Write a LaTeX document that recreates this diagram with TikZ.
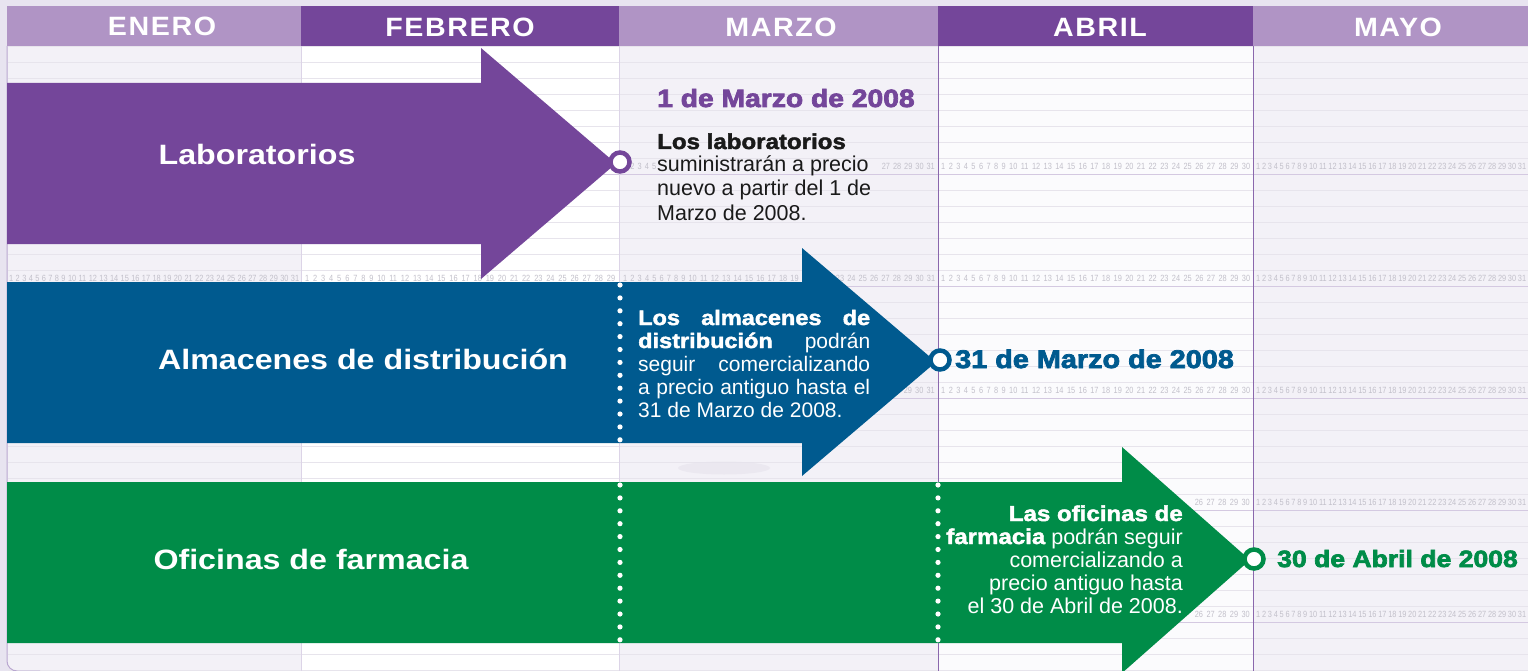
\documentclass[tikz,border=0pt]{standalone}
\usepackage{fontspec}
\setmainfont{Liberation Sans}
\newfontfamily\widefont{Liberation Sans}[BoldFeatures={FakeStretch=1.15}]
\newfontfamily\heavyfont{Liberation Sans}[BoldFeatures={FakeStretch=1.13,FakeBold=3}]
\newfontfamily\blackfont{Liberation Sans}[BoldFeatures={FakeStretch=1.12,FakeBold=2}]
\newfontfamily\hdrfont{Liberation Sans}[BoldFeatures={FakeStretch=1.08,LetterSpace=6}]
\newfontfamily\numfont{Liberation Sans}[FakeStretch=0.82]
\definecolor{bgout}{HTML}{E8E4F0}
\definecolor{lav}{HTML}{F3F1F7}
\definecolor{acol}{HTML}{FBFBFD}
\definecolor{purp}{HTML}{74469A}
\definecolor{hlight}{HTML}{B094C5}
\definecolor{blu}{HTML}{005A8F}
\definecolor{grn}{HTML}{008C48}
\definecolor{gline}{HTML}{E7E4EC}
\definecolor{pline}{HTML}{D4C9E1}
\definecolor{vlight}{HTML}{DCD4E7}
\definecolor{vdark}{HTML}{8A67AD}
\definecolor{numc}{HTML}{C2C0CA}
\definecolor{txt}{HTML}{1A1A1A}
\definecolor{frame}{HTML}{B9A7D0}
\definecolor{shadowc}{HTML}{E6E3EC}
\def\dXXXI{1 2 3 4 5 6 7 8 9 10 11 12 13 14 15 16 17 18 19 20 21 22 23 24 25 26 27 28 29 30 31}
\def\dXXX{1 2 3 4 5 6 7 8 9 10 11 12 13 14 15 16 17 18 19 20 21 22 23 24 25 26 27 28 29 30}
\def\dXXIX{1 2 3 4 5 6 7 8 9 10 11 12 13 14 15 16 17 18 19 20 21 22 23 24 25 26 27 28 29}
\begin{document}
\begin{tikzpicture}[x=1pt,y=-1pt,
  hd/.style={anchor=base, text=white, inner sep=0, font=\hdrfont\bfseries\fontsize{26.5}{26.5}\selectfont},
  lbl/.style={anchor=base, text=white, inner sep=0, font=\widefont\bfseries\fontsize{28}{28}\selectfont},
  dt/.style={anchor=base west, inner sep=0, font=\heavyfont\bfseries\fontsize{25}{25}\selectfont},
  bodyl/.style={anchor=base west, inner sep=0, font=\fontsize{21.5}{23}\selectfont},
  bodyr/.style={anchor=base east, inner sep=0, font=\fontsize{21.5}{23}\selectfont},
  numrow/.style={anchor=base west, inner sep=0, text=numc, font=\numfont\fontsize{9}{9}\selectfont},
  numrowe/.style={numrow, anchor=base east},
  dotline/.style={white, line width=5.2pt, line cap=round, dash pattern=on 0pt off 12.9pt},
  ring/.style={circle, fill=white, line width=4.5pt, minimum size=19pt, inner sep=0}
]
\useasboundingbox (0,0) rectangle (1528,671);
\clip (0,0) rectangle (1528,671);
\fill[bgout] (0,0) rectangle (1528,671);
% calendar body
\fill[lav] (1540,46) -- (7,46) [rounded corners=10pt] -- (7,671) -- (1540,671) -- cycle;
\fill[white] (301,46) rectangle (619,671);
\fill[acol] (938,46) rectangle (1253,671);
% grid lines
\foreach \k in {0,...,39} {
  \draw[gline, line width=0.8pt] (8,{46+16*\k}) -- (1528,{46+16*\k});
}
\foreach \j in {0,...,4} {
  \draw[pline, line width=0.9pt] (8,{174+112*\j}) -- (1528,{174+112*\j});
}
% vertical lines
\draw[vlight, line width=0.8pt] (301,46) -- (301,671);
\draw[vlight, line width=0.8pt] (619,46) -- (619,671);
\draw[vdark, line width=1pt] (938,46) -- (938,671);
\draw[vdark, line width=1pt] (1253,46) -- (1253,671);
\draw[frame, line width=1pt, rounded corners=10pt] (7,46) -- (7,671) -- (40,671);
% day numbers (only where they are not hidden)
% row 0 (y 166)
\node[numrow] (nm0a) at (623,169.5) {\makebox[33pt][s]{1 2 3 4 5}};
\node[numrowe] (nm0b) at (935,169.5) {\makebox[53pt][s]{27 28 29 30 31}};
\node[numrow] (na0) at (941,169.5) {\makebox[309pt][s]{\dXXX}};
\node[numrow] (ny0) at (1256,169.5) {\makebox[270pt][s]{\dXXXI}};
% row 1 (y 278)
\node[numrow] (ne1) at (9,281.5) {\makebox[290pt][s]{\dXXXI}};
\node[numrow] (nf1) at (305,281.5) {\makebox[310pt][s]{\dXXIX}};
\node[numrow] (nm1) at (623,281.5) {\makebox[312pt][s]{\dXXXI}};
\node[numrow] (na1) at (941,281.5) {\makebox[309pt][s]{\dXXX}};
\node[numrow] (ny1) at (1256,281.5) {\makebox[270pt][s]{\dXXXI}};
% row 2 (y 390)
\node[numrowe] (nm2) at (935,393.5) {\makebox[31pt][s]{29 30 31}};
\node[numrow] (na2) at (941,393.5) {\makebox[309pt][s]{\dXXX}};
\node[numrow] (ny2) at (1256,393.5) {\makebox[270pt][s]{\dXXXI}};
% row 3 (y 502)
\node[numrowe] (na3) at (1250,505.5) {\makebox[55pt][s]{26 27 28 29 30}};
\node[numrow] (ny3) at (1256,505.5) {\makebox[270pt][s]{\dXXXI}};
% row 4 (y 614)
\node[numrowe] (na4) at (1250,617.5) {\makebox[55pt][s]{26 27 28 29 30}};
\node[numrow] (ny4) at (1256,617.5) {\makebox[270pt][s]{\dXXXI}};
% faint shadow
\fill[shadowc, opacity=0.6] (724,468) ellipse [x radius=46, y radius=6.5];
% arrows
\fill[purp] (7,83) -- (481,83) -- (481,48) -- (616,163.5) -- (481,279) -- (481,244) -- (7,244) -- cycle;
\fill[blu] (7,282) -- (802,282) -- (802,248) -- (936,362) -- (802,476) -- (802,443) -- (7,443) -- cycle;
\fill[grn] (7,482) -- (1122,482) -- (1122,447) -- (1250,560) -- (1122,673) -- (1122,643) -- (7,643) -- cycle;
% dotted separators
\coordinate (b1) at (620,285);
\coordinate (b2) at (620,441);
\coordinate (g1) at (620,485);
\coordinate (g2) at (620,641);
\coordinate (g3) at (938,485);
\coordinate (g4) at (938,641);
\draw[dotline] (b1) -- (b2);
\draw[dotline] (g1) -- (g2);
\draw[dotline] (g3) -- (g4);
% rings
\node[ring, draw=purp] (rp) at (620,162) {};
\node[ring, draw=blu] (rb) at (940,360) {};
\node[ring, draw=grn] (rg) at (1254,559) {};
% arrow labels
\node[lbl] (lab) at (257,165) {Laboratorios};
\node[lbl] (alm) at (363,369) {Almacenes de distribución};
\node[lbl] (ofi) at (311,569) {Oficinas de farmacia};
% dates
\node[dt, text=purp] (d1) at (657,107) {1 de Marzo de 2008};
\node[dt, text=blu, font=\heavyfont\bfseries\fontsize{25.5}{25.5}\selectfont] (d2) at (955,368) {31 de Marzo de 2008};
\node[dt, text=grn, font=\heavyfont\bfseries\fontsize{23.5}{23.5}\selectfont] (d3) at (1277,567) {30 de Abril de 2008};
% purple text
\node[bodyl, text=txt] (p1) at (657,149) {\blackfont\bfseries Los laboratorios};
\node[bodyl, text=txt] (p2) at (657,172) {suministrarán a precio};
\node[bodyl, text=txt] (p3) at (657,196) {nuevo a partir del 1 de};
\node[bodyl, text=txt] (p4) at (657,220) {Marzo de 2008.};
% blue text
\node[bodyl, text=white, font=\fontsize{21}{23}\selectfont] (q1) at (638,325) {\makebox[232pt][s]{\blackfont\bfseries Los almacenes de}};
\node[bodyl, text=white, font=\fontsize{21}{23}\selectfont] (q2) at (638,348) {\makebox[232pt][s]{{\blackfont\bfseries distribución} podrán}};
\node[bodyl, text=white, font=\fontsize{21}{23}\selectfont] (q3) at (638,371) {\makebox[232pt][s]{seguir comercializando}};
\node[bodyl, text=white, font=\fontsize{21}{23}\selectfont] (q4) at (638,394) {\makebox[232pt][s]{a precio antiguo hasta el}};
\node[bodyl, text=white, font=\fontsize{21}{23}\selectfont] (q5) at (638,417) {31 de Marzo de 2008.};
% green text
\node[bodyr, text=white] (r1) at (1183,521) {\blackfont\bfseries Las oficinas de};
\node[bodyr, text=white] (r2) at (1183,544) {{\blackfont\bfseries farmacia} podrán seguir};
\node[bodyr, text=white] (r3) at (1183,567) {comercializando a};
\node[bodyr, text=white] (r4) at (1183,590) {precio antiguo hasta};
\node[bodyr, text=white] (r5) at (1183,613) {el 30 de Abril de 2008.};
% header
\fill[hlight] (7,6) rectangle (301,46);
\fill[purp] (301,6) rectangle (619,46);
\fill[hlight] (619,6) rectangle (938,46);
\fill[purp] (938,6) rectangle (1253,46);
\fill[hlight] (1253,6) rectangle (1528,46);
\node[hd] (h1) at (162,35.5) {ENERO};
\node[hd] (h2) at (460,37) {FEBRERO};
\node[hd] (h3) at (781,37) {MARZO};
\node[hd] (h4) at (1100,37) {ABRIL};
\node[hd] (h5) at (1398,37) {MAYO};
\end{tikzpicture}
\end{document}
